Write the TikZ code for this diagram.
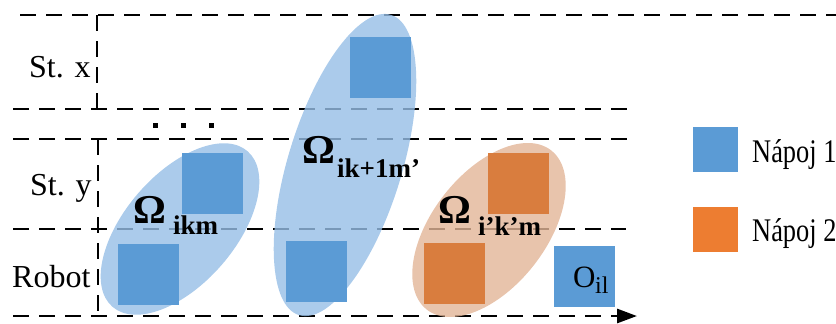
\documentclass[tikz,border=0pt]{standalone}
\usepackage{fontspec}
\setmainfont{Liberation Serif}
\newfontfamily\legfont[FakeStretch=0.8]{Liberation Serif}
\usetikzlibrary{arrows.meta}
\definecolor{sqblue}{HTML}{5B9BD5}
\definecolor{sqorange}{HTML}{ED7D31}
\definecolor{sqorangeB}{HTML}{D97D3E}
\definecolor{elblue}{RGB}{150,190,230}
\definecolor{elorange}{RGB}{226,181,151}
\begin{document}
\begin{tikzpicture}[x=1pt,y=-1pt,
  gridline/.style={line width=2.8pt, dash pattern=on 16pt off 10pt},
  sqbox/.style={minimum size=61pt, inner sep=0pt, outer sep=0pt},
  legbox/.style={minimum size=45pt, inner sep=0pt, outer sep=0pt},
  lbl/.style={inner sep=0pt, anchor=base west, font=\fontsize{32}{38}\selectfont},
  legtxt/.style={inner sep=0pt, anchor=base west, font=\legfont\fontsize{33}{38}\selectfont},
  omg/.style={inner sep=0pt, anchor=base west, font=\bfseries\fontsize{41}{46}\selectfont},
  omsub/.style={inner sep=0pt, anchor=base west, font=\bfseries\fontsize{27}{32}\selectfont},
  ell/.style={fill opacity=0.8}]
\useasboundingbox (0,0) rectangle (836,324);
% grid lines
\coordinate (h1a) at (20,15);  \coordinate (h1b) at (836,15);
\coordinate (h2a) at (13,109); \coordinate (h2b) at (636,109);
\coordinate (h3a) at (13,139); \coordinate (h3b) at (636,139);
\coordinate (h4a) at (13,229); \coordinate (h4b) at (626,229);
\coordinate (h5a) at (13,316); \coordinate (h5b) at (637,316);
\coordinate (v1a) at (97,15);  \coordinate (v1b) at (97,109);
\coordinate (v2a) at (98,139); \coordinate (v2b) at (98,316);
\draw[gridline] (h1a) -- (h1b);
\draw[gridline] (h2a) -- (h2b);
\draw[gridline] (h3a) -- (h3b);
\draw[gridline] (h4a) -- (h4b);
\draw[gridline, -{Triangle[length=20pt,width=14pt]}] (h5a) -- (h5b);
\draw[gridline] (v1a) -- (v1b);
\draw[gridline] (v2a) -- (v2b);
% dots
\foreach \x in {155,183,211} \fill (\x-2.5,122.5) rectangle (\x+2.5,127.5);
% ellipses
\fill[elblue, ell, rotate around={49:(180,229)}] (180,229) ellipse [x radius=103, y radius=55];
\fill[elblue, ell, rotate around={73:(345,165)}] (345,165) ellipse [x radius=157, y radius=57];
\fill[elorange, ell, rotate around={52:(489,230)}] (489,230) ellipse [x radius=101, y radius=57];
% squares
\node[sqbox, fill=sqblue] (sa) at (212.5,183.5) {};
\node[sqbox, fill=sqblue] (sb) at (148,274) {};
\node[sqbox, fill=sqblue] (sc) at (380,67) {};
\node[sqbox, fill=sqblue] (sd) at (316.5,271.5) {};
\node[sqbox, fill=sqorangeB] (se) at (518,183.5) {};
\node[sqbox, fill=sqorangeB] (sf) at (454.5,273.5) {};
\node[sqbox, fill=sqblue] (sg) at (584.5,276.5) {};
% legend
\node[legbox, fill=sqblue] (l1) at (715.5,149) {};
\node[legbox, fill=sqorange] (l2) at (715.5,229) {};
\node[legtxt] (lt1) at (752,162) {Nápoj 1};
\node[legtxt] (lt2) at (752,241) {Nápoj 2};
% row labels
\node[lbl] (rx) at (29,77) {St. x};
\node[lbl] (ry) at (30,195) {St. y};
\node[lbl] (rr) at (12,287) {Robot};
% omega labels
\node[omg] (o1) at (133,223) {Ω};
\node[omsub] (o1s) at (173,234) {ikm};
\node[omg] (o2) at (302,163) {Ω};
\node[omsub] (o2s) at (337,177) {ik+1m’};
\node[omg] (o3) at (438,223) {Ω};
\node[omsub] (o3s) at (478,235) {i’k’m};
% O_il
\node[inner sep=0pt, anchor=base west, font=\fontsize{31}{36}\selectfont] (oo) at (573,287) {O};
\node[inner sep=0pt, anchor=base west, font=\fontsize{24}{28}\selectfont] (oos) at (595,293) {il};
\end{tikzpicture}
\end{document}
